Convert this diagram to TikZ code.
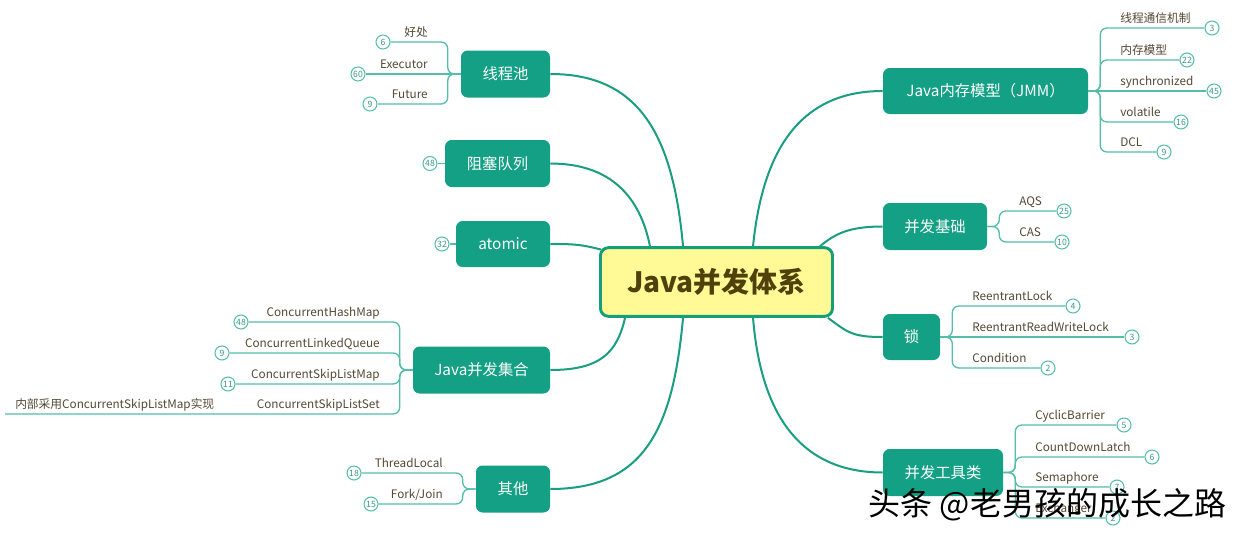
\documentclass[tikz,border=0pt]{standalone}
\usepackage{fontspec}
\setmainfont{Noto Sans CJK SC}
\usetikzlibrary{calc}
\definecolor{tealfill}{RGB}{20,160,133}
\definecolor{conncol}{RGB}{26,158,130}
\definecolor{leafcol}{RGB}{84,190,170}
\definecolor{badgetext}{RGB}{60,150,135}
\definecolor{leaftext}{RGB}{85,72,52}
\definecolor{centfill}{RGB}{255,250,150}
\definecolor{centdraw}{RGB}{22,158,122}
\definecolor{centtext}{RGB}{80,64,12}
\begin{document}
\begin{tikzpicture}[x=0.75pt,y=-0.75pt,
  mainbox/.style={fill=tealfill, text=white, rounded corners=5pt, inner sep=0pt,
    font=\fontsize{11.5}{12}\selectfont},
  badge/.style={circle, draw=leafcol, line width=0.8pt, fill=white, inner sep=0pt,
    minimum size=10.5pt, font=\fontsize{6.5}{6.5}\selectfont, text=badgetext},
  leaf/.style={font=\fontsize{8.8}{10}\selectfont, text=leaftext, inner sep=0pt},
  conn/.style={draw=conncol, line width=1.5pt},
  lline/.style={draw=leafcol, line width=1pt, rounded corners=5pt}]
\useasboundingbox[fill=white] (0,0) rectangle (1240,536);

% central node
\node[draw=centdraw, line width=2.2pt, fill=centfill, rounded corners=6pt,
  minimum width=174pt, minimum height=51.5pt, inner sep=0pt,
  font=\fontsize{21}{24}\selectfont\bfseries, text=centtext] (c) at (716.5,282) {Java并发体系};

% main nodes
\node[mainbox, minimum width=66.75pt, minimum height=35.25pt] (tp) at (505.5,74) {线程池};
\node[mainbox, minimum width=78.75pt, minimum height=35.25pt] (bq) at (497.5,163.5) {阻塞队列};
\node[mainbox, minimum width=70.5pt, minimum height=34.5pt] (at) at (503,244) {atomic};
\node[mainbox, minimum width=102.75pt, minimum height=35.25pt] (jc) at (481.5,370) {Java并发集合};
\node[mainbox, minimum width=55.5pt, minimum height=35.25pt] (qt) at (513,489) {其他};
\node[mainbox, minimum width=153.75pt, minimum height=34.5pt] (jmm) at (985.5,91) {Java内存模型（JMM）};
\node[mainbox, minimum width=78pt, minimum height=35.25pt] (jc2) at (935,226.5) {并发基础};
\node[mainbox, minimum width=42.75pt, minimum height=34.5pt] (lk) at (911.5,337) {锁};
\node[mainbox, minimum width=90pt, minimum height=35.25pt] (gj) at (943,472.5) {并发工具类};

% central connectors
\draw[conn] ([xshift=-25.1pt]c.north) .. controls +(-10,-110) and +(90,0) .. (tp.east);
\draw[conn] ([xshift=-49.9pt]c.north) .. controls +(-10,-50) and +(60,0) .. (bq.east);
\draw[conn] ([shift={(1.5pt,-2.5pt)}]c.north west) .. controls +(-20,-5) and +(25,0) .. (at.east);
\draw[conn] ([xshift=-68.6pt]c.south) .. controls +(-8,35) and +(50,0) .. (jc.east);
\draw[conn] ([xshift=-25.1pt]c.south) .. controls +(-10,110) and +(95,0) .. (qt.east);
\draw[conn] ([xshift=27.4pt]c.north) .. controls +(10,-100) and +(-80,0) .. (jmm.west);
\draw[conn] ([xshift=77.6pt]c.north) .. controls +(15,-12) and +(-35,0) .. (jc2.west);
\draw[conn] ([xshift=83.6pt]c.south) .. controls +(20,15) and +(-30,0) .. (lk.west);
\draw[conn] ([xshift=27.4pt]c.south) .. controls +(8,100) and +(-80,0) .. (gj.west);

% 线程池 leaves
\node[badge] (b1) at (383,42) {6};
\node[badge] (b2) at (358,74) {60};
\node[badge] (b3) at (370,104) {9};
\draw[lline] (tp.west) -- ++(-13,0) |- (b1.east);
\draw[lline] (tp.west) -- (b2.east);
\draw[lline] (tp.west) -- ++(-13,0) |- (b3.east);
\node[leaf, anchor=base east] (t1) at (428,36) {好处};
\node[leaf, anchor=base east] (t2) at (428,68) {Executor};
\node[leaf, anchor=base east] (t3) at (428,98) {Future};

% 阻塞队列, atomic
\node[badge] (b4) at (430,163.5) {48};
\draw[lline] (bq.west) -- (b4.east);
\node[badge] (b5) at (442,244) {32};
\draw[lline] (at.west) -- (b5.east);

% Java并发集合 leaves
\node[badge] (b6) at (241,322) {48};
\node[badge] (b7) at (222,353) {9};
\node[badge] (b8) at (228,384) {11};
\coordinate (e9) at (5,414);
\draw[lline] (jc.west) -- ++(-13,0) |- (b6.east);
\draw[lline] (jc.west) -- ++(-13,0) |- (b7.east);
\draw[lline] (jc.west) -- ++(-13,0) |- (b8.east);
\draw[lline] (jc.west) -- ++(-13,0) |- (e9);
\node[leaf, anchor=base east] (t6) at (380,316) {ConcurrentHashMap};
\node[leaf, anchor=base east] (t7) at (380,347) {ConcurrentLinkedQueue};
\node[leaf, anchor=base east] (t8) at (380,378) {ConcurrentSkipListMap};
\node[leaf, anchor=base east] (t9) at (380,408) {ConcurrentSkipListSet};
\node[leaf, anchor=base west] (t10) at (15,408) {内部采用ConcurrentSkipListMap实现};

% 其他 leaves
\node[badge] (b11) at (354,473) {18};
\node[badge] (b12) at (371,504) {15};
\draw[lline] (qt.west) -- ++(-13,0) |- (b11.east);
\draw[lline] (qt.west) -- ++(-13,0) |- (b12.east);
\node[leaf, anchor=base east] (t11) at (443,467) {ThreadLocal};
\node[leaf, anchor=base east] (t12) at (443,498) {Fork/Join};

% JMM leaves
\node[badge] (r1) at (1212,28) {3};
\node[badge] (r2) at (1187,60) {22};
\node[badge] (r3) at (1214,91) {45};
\node[badge] (r4) at (1181,122) {16};
\node[badge] (r5) at (1164,152) {9};
\draw[lline] (jmm.east) -- ++(12,0) |- (r1.west);
\draw[lline] (jmm.east) -- ++(12,0) |- (r2.west);
\draw[lline] (jmm.east) -- (r3.west);
\draw[lline] (jmm.east) -- ++(12,0) |- (r4.west);
\draw[lline] (jmm.east) -- ++(12,0) |- (r5.west);
\node[leaf, anchor=base west] (s1) at (1120,22) {线程通信机制};
\node[leaf, anchor=base west] (s2) at (1120,54) {内存模型};
\node[leaf, anchor=base west] (s3) at (1120,85) {synchronized};
\node[leaf, anchor=base west] (s4) at (1120,116) {volatile};
\node[leaf, anchor=base west] (s5) at (1120,146) {DCL};

% 并发基础 leaves
\node[badge] (r6) at (1064,211) {25};
\node[badge] (r7) at (1062,242) {10};
\draw[lline] (jc2.east) -- ++(12,0) |- (r6.west);
\draw[lline] (jc2.east) -- ++(12,0) |- (r7.west);
\node[leaf, anchor=base west] (s6) at (1019,205) {AQS};
\node[leaf, anchor=base west] (s7) at (1019,236) {CAS};

% 锁 leaves
\node[badge] (r8) at (1073,306) {4};
\node[badge] (r9) at (1132,337) {3};
\node[badge] (r10) at (1048,368) {2};
\draw[lline] (lk.east) -- ++(12,0) |- (r8.west);
\draw[lline] (lk.east) -- (r9.west);
\draw[lline] (lk.east) -- ++(12,0) |- (r10.west);
\node[leaf, anchor=base west] (s8) at (972,300) {ReentrantLock};
\node[leaf, anchor=base west] (s9) at (972,331) {ReentrantReadWriteLock};
\node[leaf, anchor=base west] (s10) at (972,362) {Condition};

% 并发工具类 leaves
\node[badge] (r11) at (1124,425) {5};
\node[badge] (r12) at (1152,457) {6};
\node[badge] (r13) at (1117,487) {7};
\node[badge] (r14) at (1113,518) {2};
\draw[lline] (gj.east) -- ++(12,0) |- (r11.west);
\draw[lline] (gj.east) -- ++(12,0) |- (r12.west);
\draw[lline] (gj.east) -- ++(12,0) |- (r13.west);
\draw[lline] (gj.east) -- ++(12,0) |- (r14.west);
\node[leaf, anchor=base west] (s11) at (1035,419) {CyclicBarrier};
\node[leaf, anchor=base west] (s12) at (1035,451) {CountDownLatch};
\node[leaf, anchor=base west] (s13) at (1035,481) {Semaphore};
\node[leaf, anchor=base west] (s14) at (1035,512) {Exchanger};

% watermark
\node[font=\fontsize{24}{24}\selectfont, text=black, inner sep=0pt] (wm) at (1047.5,505) {头条 @老男孩的成长之路};
\end{tikzpicture}
\end{document}
